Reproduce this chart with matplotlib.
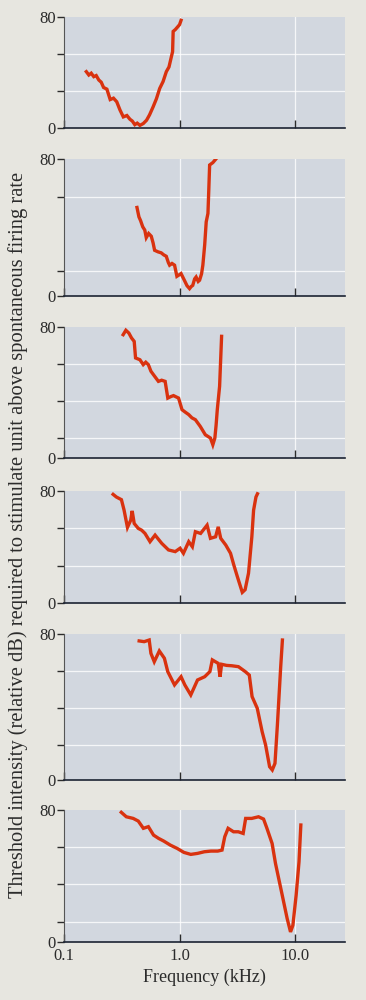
import matplotlib.pyplot as plt
import numpy as np

# tuning curves, frequency in kHz and threshold in relative dB
f1 = [0.156, 0.164, 0.172, 0.181, 0.19, 0.2, 0.21, 0.22, 0.235, 0.251, 0.268, 0.286, 0.305, 0.326, 0.35, 0.372, 0.39, 0.41, 0.43, 0.454, 0.485, 0.518, 0.55, 0.59, 0.63, 0.673, 0.72, 0.768, 0.81, 0.85, 0.87, 0.88, 0.92, 0.97, 1.0, 1.03]
d1 = [40.6, 38.2, 39.5, 37.0, 37.8, 34.6, 33.0, 29.2, 28.0, 20.5, 21.5, 18.9, 13.0, 8.0, 9.0, 6.3, 5.0, 2.4, 3.5, 1.9, 3.2, 5.6, 9.5, 15.2, 21.0, 28.5, 33.5, 40.6, 44.0, 51.5, 55.0, 69.6, 71.0, 73.2, 74.5, 77.6]

f2 = [0.428, 0.445, 0.46, 0.48, 0.5, 0.515, 0.54, 0.569, 0.59, 0.608, 0.65, 0.694, 0.73, 0.767, 0.8, 0.82, 0.86, 0.905, 0.948, 1.0, 1.03, 1.1, 1.16, 1.22, 1.26, 1.3, 1.35, 1.39, 1.45, 1.49, 1.55, 1.59, 1.65, 1.7, 1.76, 1.79, 1.82, 1.94, 2.05]
d2 = [51.7, 46.2, 44.0, 40.4, 38.5, 34.1, 36.5, 34.9, 31.0, 26.7, 25.8, 25.2, 24.0, 23.2, 19.5, 18.0, 19.0, 18.0, 11.5, 12.5, 13.1, 9.2, 6.0, 4.3, 5.5, 6.2, 10.0, 11.1, 8.5, 9.2, 13.0, 18.0, 30.0, 43.3, 48.2, 62.0, 76.5, 77.9, 79.8]

f3 = [0.325, 0.343, 0.364, 0.384, 0.405, 0.416, 0.454, 0.485, 0.51, 0.537, 0.565, 0.594, 0.656, 0.7, 0.75, 0.791, 0.84, 0.886, 0.98, 1.05, 1.12, 1.2, 1.28, 1.37, 1.51, 1.67, 1.85, 1.94, 2.02, 2.07, 2.12, 2.22, 2.31]
d3 = [75.3, 78.0, 76.3, 73.3, 71.2, 61.1, 60.0, 57.0, 58.5, 57.0, 53.0, 50.9, 46.8, 47.5, 46.8, 36.6, 37.5, 38.1, 36.6, 29.5, 28.0, 26.5, 24.5, 23.4, 19.3, 14.2, 12.2, 8.1, 12.2, 20.0, 29.5, 43.8, 74.3]

f4 = [0.266, 0.284, 0.314, 0.331, 0.354, 0.378, 0.389, 0.405, 0.439, 0.47, 0.502, 0.555, 0.614, 0.701, 0.802, 0.917, 1.01, 1.08, 1.2, 1.29, 1.37, 1.52, 1.73, 1.85, 2.05, 2.16, 2.27, 2.51, 2.76, 2.95, 3.16, 3.49, 3.69, 3.95, 4.22, 4.37, 4.58, 4.72]
d4 = [77.6, 75.7, 73.8, 66.3, 54.0, 59.2, 65.8, 56.8, 53.3, 52.0, 49.7, 43.8, 48.5, 42.6, 37.9, 36.7, 39.1, 35.5, 43.8, 40.2, 50.9, 49.7, 55.6, 46.2, 47.3, 54.4, 46.2, 41.4, 35.5, 27.0, 18.9, 7.6, 9.5, 21.3, 47.3, 66.3, 75.7, 78.0]

f5 = [0.447, 0.494, 0.546, 0.565, 0.604, 0.668, 0.739, 0.79, 0.904, 1.03, 1.11, 1.25, 1.43, 1.65, 1.83, 1.92, 2.16, 2.24, 2.31, 2.55, 2.83, 3.23, 3.7, 4.01, 4.24, 4.7, 5.18, 5.55, 6.01, 6.34, 6.69, 7.02, 7.5, 7.76]
d5 = [76.2, 75.8, 76.7, 69.4, 64.8, 70.7, 66.7, 59.4, 52.1, 56.6, 52.1, 46.6, 54.8, 56.6, 59.4, 65.8, 63.9, 56.6, 63.4, 62.8, 62.6, 62.1, 59.4, 57.5, 45.7, 39.3, 26.5, 19.2, 7.3, 5.5, 9.1, 30.1, 62.1, 76.7]

f6 = [0.313, 0.346, 0.397, 0.439, 0.486, 0.537, 0.595, 0.658, 0.728, 0.833, 0.954, 1.09, 1.25, 1.43, 1.64, 1.87, 2.14, 2.33, 2.46, 2.63, 2.93, 3.22, 3.55, 3.73, 4.21, 4.82, 5.33, 5.7, 6.32, 6.76, 7.73, 8.53, 9.12, 9.56, 10.2, 10.8, 11.2]
d6 = [78.6, 75.9, 74.9, 73.3, 68.9, 69.9, 64.8, 62.8, 61.2, 58.7, 56.7, 54.3, 53.1, 53.7, 54.7, 55.1, 55.1, 55.7, 63.8, 68.9, 66.8, 66.8, 65.8, 74.9, 74.9, 75.9, 74.5, 68.9, 59.7, 47.6, 28.4, 14.2, 6.1, 10.1, 28.4, 48.6, 70.9]

freqs = [f1, f2, f3, f4, f5, f6]
thresholds = [d1, d2, d3, d4, d5, d6]

# unlabeled tick / grid levels of each panel (the scan's gridlines are not evenly placed)
grid_levels = [[26.7, 53.0], [14.6, 57.8], [12.2, 34.8, 57.4], [26.4, 53.6], [19.2, 39.5, 59.7], [12.1, 35.2, 57.6]]

# panel top and bottom in pixels (from top of the picture)
panel_px = [(17, 128), (159, 296), (327, 458), (491, 603), (634, 780), (810, 942)]

bg = '#e7e6e0'
face = '#d2d7df'
red = '#d9320f'
ink = '#2b2b2b'

plt.rcParams['font.family'] = ['Liberation Serif', 'DejaVu Serif']

fig = plt.figure(figsize=(3.66, 10.0), dpi=100)
fig.patch.set_facecolor(bg)

W, H = 366.0, 1000.0
left, right = 64, 345

for i in range(6):
    top, bot = panel_px[i]
    ax = fig.add_axes([left / W, 1 - bot / H, (right - left) / W, (bot - top) / H])
    ax.set_facecolor(face)
    ax.set_xscale('log')
    ax.set_xlim(0.1, 27)
    ax.set_ylim(0, 80)

    for lv in grid_levels[i]:
        ax.axhline(lv, color='white', lw=0.9, alpha=0.8, zorder=1)
    for xv in [1.0, 10.0]:
        ax.axvline(xv, color='white', lw=0.9, alpha=0.8, zorder=1)

    ax.plot(freqs[i], thresholds[i], color=red, lw=2.4, solid_joinstyle='miter', zorder=3)

    ax.set_yticks([0] + grid_levels[i] + [80])
    ax.set_yticklabels(['0'] + [''] * len(grid_levels[i]) + ['80'])
    ax.set_xticks([0.1, 1.0, 10.0])
    ax.xaxis.set_minor_locator(plt.NullLocator())
    if i == 5:
        ax.set_xticklabels(['0.1', '1.0', '10.0'])
        ax.set_xlabel('Frequency (kHz)', fontsize=13, color=ink, labelpad=4)
    else:
        ax.set_xticklabels(['', '', ''])

    ax.tick_params(axis='y', direction='out', length=5, width=1, colors=ink, labelsize=12, pad=1)
    ax.tick_params(axis='x', direction='in', length=6, width=1, colors=ink, labelsize=12, pad=4)

    for s in ['top', 'right']:
        ax.spines[s].set_visible(False)
    ax.spines['left'].set_color('#555555')
    ax.spines['left'].set_linewidth(0.8)
    ax.spines['bottom'].set_color('#1c2333')
    ax.spines['bottom'].set_linewidth(1.2)

fig.text(18 / W, 1 - 535 / H,
         'Threshold intensity (relative dB) required to stimulate unit above spontaneous firing rate',
         rotation=90, ha='center', va='center', fontsize=14.8, color=ink)

plt.savefig('out.png', dpi=100, facecolor=bg)
